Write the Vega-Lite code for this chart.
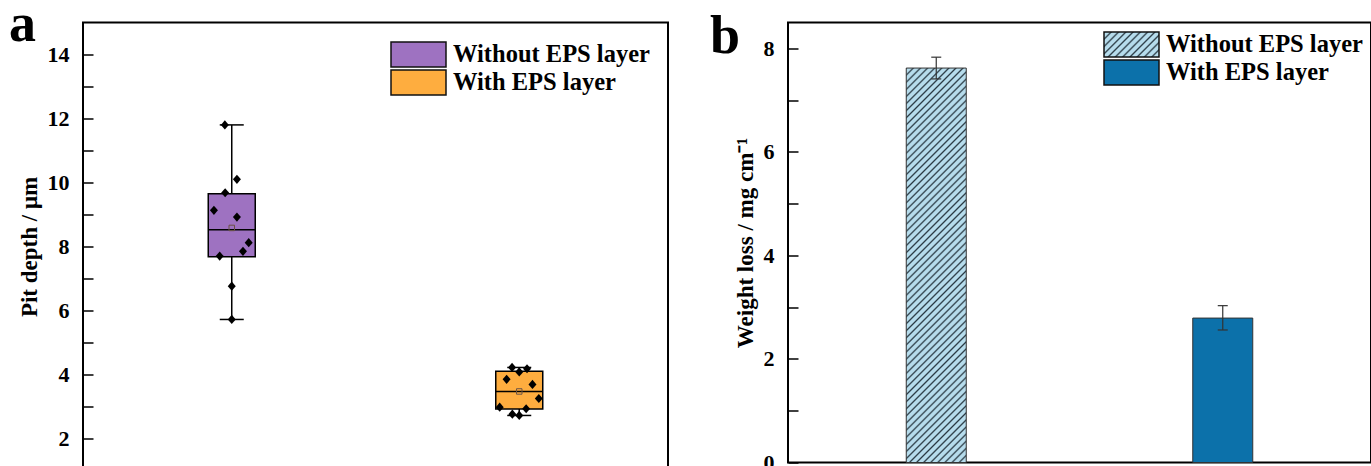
{
  "$schema": "https://vega.github.io/schema/vega-lite/v6.json",
  "background": "white",
  "padding": {"left": 8, "top": -3.5, "right": 0, "bottom": 0},
  "spacing": 120,
  "bounds": "flush",
  "resolve": {"scale": {"fill": "independent"}, "legend": {"fill": "independent"}},
  "datasets": {
    "pits": [
      {"group": "Without EPS layer", "x": 0.976, "depth": 11.8},
      {"group": "Without EPS layer", "x": 1.018, "depth": 10.1},
      {"group": "Without EPS layer", "x": 0.977, "depth": 9.68},
      {"group": "Without EPS layer", "x": 0.938, "depth": 9.13},
      {"group": "Without EPS layer", "x": 1.018, "depth": 8.92},
      {"group": "Without EPS layer", "x": 1.059, "depth": 8.12},
      {"group": "Without EPS layer", "x": 1.039, "depth": 7.85},
      {"group": "Without EPS layer", "x": 0.958, "depth": 7.70},
      {"group": "Without EPS layer", "x": 1.0, "depth": 6.76},
      {"group": "Without EPS layer", "x": 1.0, "depth": 5.72},
      {"group": "With EPS layer", "x": 1.975, "depth": 4.22},
      {"group": "With EPS layer", "x": 2.0, "depth": 4.08},
      {"group": "With EPS layer", "x": 2.027, "depth": 4.18},
      {"group": "With EPS layer", "x": 1.956, "depth": 3.85},
      {"group": "With EPS layer", "x": 2.046, "depth": 3.69},
      {"group": "With EPS layer", "x": 2.068, "depth": 3.25},
      {"group": "With EPS layer", "x": 1.932, "depth": 2.98},
      {"group": "With EPS layer", "x": 2.024, "depth": 2.93},
      {"group": "With EPS layer", "x": 1.976, "depth": 2.76},
      {"group": "With EPS layer", "x": 2.0, "depth": 2.72}
    ],
    "box": [
      {"group": "Without EPS layer", "x": 1, "lo": 5.72, "q1": 7.68, "med": 8.52, "q3": 9.65, "hi": 11.8, "mean": 8.58},
      {"group": "With EPS layer", "x": 2, "lo": 2.72, "q1": 2.92, "med": 3.47, "q3": 4.10, "hi": 4.22, "mean": 3.47}
    ],
    "wl": [
      {"group": "Without EPS layer", "x": 1, "loss": 7.62, "lo": 7.41, "hi": 7.83},
      {"group": "With EPS layer", "x": 2, "loss": 2.79, "lo": 2.56, "hi": 3.03}
    ]
  },
  "hconcat": [
    {
      "width": 585,
      "height": 448,
      "title": {"text": "a", "dx": -74, "dy": 33.1},
      "layer": [
        {
          "data": {"name": "box"},
          "mark": {"type": "rule", "stroke": "black", "strokeWidth": 1.5},
          "encoding": {
            "x": {"field": "x", "type": "quantitative", "scale": {"domain": [0.5, 2.5], "nice": false, "zero": false}, "axis": null},
            "y": {"field": "lo", "type": "quantitative", "scale": {"domain": [1, 15], "nice": false, "zero": false},
                  "axis": {"title": "Pit depth / μm", "values": [1,2,3,4,5,6,7,8,9,10,11,12,13,14], "labelExpr": "datum.value % 2 === 0 ? datum.label : ''", "labelOverlap": false, "labelBound": false, "labelFlush": false}},
            "y2": {"field": "hi"}
          }
        },
        {
          "data": {"name": "box"},
          "mark": {"type": "bar", "size": 47, "stroke": "black", "strokeWidth": 1.5},
          "encoding": {
            "x": {"field": "x", "type": "quantitative", "axis": null},
            "y": {"field": "q1", "type": "quantitative",
                  "axis": {"title": "Pit depth / μm", "values": [1,2,3,4,5,6,7,8,9,10,11,12,13,14], "labelExpr": "datum.value % 2 === 0 ? datum.label : ''", "labelOverlap": false, "labelBound": false, "labelFlush": false}},
            "y2": {"field": "q3"},
            "fill": {"field": "group", "type": "nominal",
                     "scale": {"domain": ["Without EPS layer", "With EPS layer"], "range": ["#9e72c1", "#fead3f"]},
                     "legend": {"orient": "top-right", "offset": 18}}
          }
        },
        {
          "data": {"name": "box"},
          "mark": {"type": "tick", "orient": "horizontal", "size": 47, "thickness": 1.5, "color": "black", "opacity": 1},
          "encoding": {"x": {"field": "x", "type": "quantitative", "axis": null}, "y": {"field": "med", "type": "quantitative",
                  "axis": {"title": "Pit depth / μm", "values": [1,2,3,4,5,6,7,8,9,10,11,12,13,14], "labelExpr": "datum.value % 2 === 0 ? datum.label : ''", "labelOverlap": false, "labelBound": false, "labelFlush": false}}}
        },
        {
          "data": {"name": "box"},
          "mark": {"type": "tick", "orient": "horizontal", "size": 24, "thickness": 1.5, "color": "black", "opacity": 1},
          "encoding": {"x": {"field": "x", "type": "quantitative", "axis": null}, "y": {"field": "lo", "type": "quantitative",
                  "axis": {"title": "Pit depth / μm", "values": [1,2,3,4,5,6,7,8,9,10,11,12,13,14], "labelExpr": "datum.value % 2 === 0 ? datum.label : ''", "labelOverlap": false, "labelBound": false, "labelFlush": false}}}
        },
        {
          "data": {"name": "box"},
          "mark": {"type": "tick", "orient": "horizontal", "size": 24, "thickness": 1.5, "color": "black", "opacity": 1},
          "encoding": {"x": {"field": "x", "type": "quantitative", "axis": null}, "y": {"field": "hi", "type": "quantitative",
                  "axis": {"title": "Pit depth / μm", "values": [1,2,3,4,5,6,7,8,9,10,11,12,13,14], "labelExpr": "datum.value % 2 === 0 ? datum.label : ''", "labelOverlap": false, "labelBound": false, "labelFlush": false}}}
        },
        {
          "data": {"name": "box"},
          "mark": {"type": "point", "shape": "square", "filled": false, "size": 30, "stroke": "#6b5344", "strokeWidth": 1, "opacity": 1},
          "encoding": {"x": {"field": "x", "type": "quantitative", "axis": null}, "y": {"field": "mean", "type": "quantitative",
                  "axis": {"title": "Pit depth / μm", "values": [1,2,3,4,5,6,7,8,9,10,11,12,13,14], "labelExpr": "datum.value % 2 === 0 ? datum.label : ''", "labelOverlap": false, "labelBound": false, "labelFlush": false}}}
        },
        {
          "data": {"name": "pits"},
          "mark": {"type": "point", "shape": "M-1,0L0,-1.15L1,0L0,1.15Z", "filled": true, "size": 64, "color": "black", "opacity": 1},
          "encoding": {"x": {"field": "x", "type": "quantitative", "axis": null}, "y": {"field": "depth", "type": "quantitative",
                  "axis": {"title": "Pit depth / μm", "values": [1,2,3,4,5,6,7,8,9,10,11,12,13,14], "labelExpr": "datum.value % 2 === 0 ? datum.label : ''", "labelOverlap": false, "labelBound": false, "labelFlush": false}}}
        }
      ]
    },
    {
      "width": 583,
      "height": 440,
      "title": {"text": "b", "dx": -78, "dy": 45.4},
      "layer": [
        {
          "data": {"name": "wl"},
          "mark": {"type": "bar", "size": 60, "stroke": "#333333", "strokeWidth": 1},
          "encoding": {
            "x": {"field": "x", "type": "quantitative", "scale": {"domain": [0.5, 2.5], "nice": false, "zero": false}, "axis": null},
            "y": {"field": "loss", "type": "quantitative", "scale": {"domain": [0, 8.5], "nice": false},
                  "axis": {"title": "Weight loss / mg cm⁻¹", "values": [0,1,2,3,4,5,6,7,8], "labelExpr": "datum.value % 2 === 0 ? datum.label : ''", "labelOverlap": false}},
            "fill": {
              "field": "group", "type": "nominal",
              "scale": {"domain": ["Without EPS layer", "With EPS layer"], "range": [
                {"expr": "{gradient: 'linear', x1: 0, y1: 0, x2: 1.2055, y2: 0.548, stops: [{offset: 0, color: '#2a3a44'}, {offset: 0.0227, color: '#b6dcec'}, {offset: 0.0682, color: '#b6dcec'}, {offset: 0.0909, color: '#2a3a44'}, {offset: 0.1136, color: '#b6dcec'}, {offset: 0.1591, color: '#b6dcec'}, {offset: 0.1818, color: '#2a3a44'}, {offset: 0.2045, color: '#b6dcec'}, {offset: 0.25, color: '#b6dcec'}, {offset: 0.2727, color: '#2a3a44'}, {offset: 0.2955, color: '#b6dcec'}, {offset: 0.3409, color: '#b6dcec'}, {offset: 0.3636, color: '#2a3a44'}, {offset: 0.3864, color: '#b6dcec'}, {offset: 0.4318, color: '#b6dcec'}, {offset: 0.4545, color: '#2a3a44'}, {offset: 0.4773, color: '#b6dcec'}, {offset: 0.5227, color: '#b6dcec'}, {offset: 0.5455, color: '#2a3a44'}, {offset: 0.5682, color: '#b6dcec'}, {offset: 0.6136, color: '#b6dcec'}, {offset: 0.6364, color: '#2a3a44'}, {offset: 0.6591, color: '#b6dcec'}, {offset: 0.7045, color: '#b6dcec'}, {offset: 0.7273, color: '#2a3a44'}, {offset: 0.75, color: '#b6dcec'}, {offset: 0.7955, color: '#b6dcec'}, {offset: 0.8182, color: '#2a3a44'}, {offset: 0.8409, color: '#b6dcec'}, {offset: 0.8864, color: '#b6dcec'}, {offset: 0.9091, color: '#2a3a44'}, {offset: 0.9318, color: '#b6dcec'}, {offset: 0.9773, color: '#b6dcec'}, {offset: 1, color: '#2a3a44'}]}"},
                "#0c71aa"
              ]},
              "condition": {"test": "datum.group === 'Without EPS layer'", "value": {"gradient": "linear", "x1": 0, "y1": 0, "x2": 0.1714, "y2": 1.126, "stops": [
                {"offset": 0, "color": "#2a3a44"}, {"offset": 0.0039, "color": "#b6dcec"}, {"offset": 0.0117, "color": "#b6dcec"},
                {"offset": 0.0156, "color": "#2a3a44"}, {"offset": 0.0195, "color": "#b6dcec"}, {"offset": 0.0273, "color": "#b6dcec"},
                {"offset": 0.0313, "color": "#2a3a44"}, {"offset": 0.0352, "color": "#b6dcec"}, {"offset": 0.043, "color": "#b6dcec"},
                {"offset": 0.0469, "color": "#2a3a44"}, {"offset": 0.0508, "color": "#b6dcec"}, {"offset": 0.0586, "color": "#b6dcec"},
                {"offset": 0.0625, "color": "#2a3a44"}, {"offset": 0.0664, "color": "#b6dcec"}, {"offset": 0.0742, "color": "#b6dcec"},
                {"offset": 0.0781, "color": "#2a3a44"}, {"offset": 0.082, "color": "#b6dcec"}, {"offset": 0.0898, "color": "#b6dcec"},
                {"offset": 0.0938, "color": "#2a3a44"}, {"offset": 0.0977, "color": "#b6dcec"}, {"offset": 0.1055, "color": "#b6dcec"},
                {"offset": 0.1094, "color": "#2a3a44"}, {"offset": 0.1133, "color": "#b6dcec"}, {"offset": 0.1211, "color": "#b6dcec"},
                {"offset": 0.125, "color": "#2a3a44"}, {"offset": 0.1289, "color": "#b6dcec"}, {"offset": 0.1367, "color": "#b6dcec"},
                {"offset": 0.1406, "color": "#2a3a44"}, {"offset": 0.1445, "color": "#b6dcec"}, {"offset": 0.1523, "color": "#b6dcec"},
                {"offset": 0.1563, "color": "#2a3a44"}, {"offset": 0.1602, "color": "#b6dcec"}, {"offset": 0.168, "color": "#b6dcec"},
                {"offset": 0.1719, "color": "#2a3a44"}, {"offset": 0.1758, "color": "#b6dcec"}, {"offset": 0.1836, "color": "#b6dcec"},
                {"offset": 0.1875, "color": "#2a3a44"}, {"offset": 0.1914, "color": "#b6dcec"}, {"offset": 0.1992, "color": "#b6dcec"},
                {"offset": 0.2031, "color": "#2a3a44"}, {"offset": 0.207, "color": "#b6dcec"}, {"offset": 0.2148, "color": "#b6dcec"},
                {"offset": 0.2188, "color": "#2a3a44"}, {"offset": 0.2227, "color": "#b6dcec"}, {"offset": 0.2305, "color": "#b6dcec"},
                {"offset": 0.2344, "color": "#2a3a44"}, {"offset": 0.2383, "color": "#b6dcec"}, {"offset": 0.2461, "color": "#b6dcec"},
                {"offset": 0.25, "color": "#2a3a44"}, {"offset": 0.2539, "color": "#b6dcec"}, {"offset": 0.2617, "color": "#b6dcec"},
                {"offset": 0.2656, "color": "#2a3a44"}, {"offset": 0.2695, "color": "#b6dcec"}, {"offset": 0.2773, "color": "#b6dcec"},
                {"offset": 0.2813, "color": "#2a3a44"}, {"offset": 0.2852, "color": "#b6dcec"}, {"offset": 0.293, "color": "#b6dcec"},
                {"offset": 0.2969, "color": "#2a3a44"}, {"offset": 0.3008, "color": "#b6dcec"}, {"offset": 0.3086, "color": "#b6dcec"},
                {"offset": 0.3125, "color": "#2a3a44"}, {"offset": 0.3164, "color": "#b6dcec"}, {"offset": 0.3242, "color": "#b6dcec"},
                {"offset": 0.3281, "color": "#2a3a44"}, {"offset": 0.332, "color": "#b6dcec"}, {"offset": 0.3398, "color": "#b6dcec"},
                {"offset": 0.3438, "color": "#2a3a44"}, {"offset": 0.3477, "color": "#b6dcec"}, {"offset": 0.3555, "color": "#b6dcec"},
                {"offset": 0.3594, "color": "#2a3a44"}, {"offset": 0.3633, "color": "#b6dcec"}, {"offset": 0.3711, "color": "#b6dcec"},
                {"offset": 0.375, "color": "#2a3a44"}, {"offset": 0.3789, "color": "#b6dcec"}, {"offset": 0.3867, "color": "#b6dcec"},
                {"offset": 0.3906, "color": "#2a3a44"}, {"offset": 0.3945, "color": "#b6dcec"}, {"offset": 0.4023, "color": "#b6dcec"},
                {"offset": 0.4063, "color": "#2a3a44"}, {"offset": 0.4102, "color": "#b6dcec"}, {"offset": 0.418, "color": "#b6dcec"},
                {"offset": 0.4219, "color": "#2a3a44"}, {"offset": 0.4258, "color": "#b6dcec"}, {"offset": 0.4336, "color": "#b6dcec"},
                {"offset": 0.4375, "color": "#2a3a44"}, {"offset": 0.4414, "color": "#b6dcec"}, {"offset": 0.4492, "color": "#b6dcec"},
                {"offset": 0.4531, "color": "#2a3a44"}, {"offset": 0.457, "color": "#b6dcec"}, {"offset": 0.4648, "color": "#b6dcec"},
                {"offset": 0.4688, "color": "#2a3a44"}, {"offset": 0.4727, "color": "#b6dcec"}, {"offset": 0.4805, "color": "#b6dcec"},
                {"offset": 0.4844, "color": "#2a3a44"}, {"offset": 0.4883, "color": "#b6dcec"}, {"offset": 0.4961, "color": "#b6dcec"},
                {"offset": 0.5, "color": "#2a3a44"}, {"offset": 0.5039, "color": "#b6dcec"}, {"offset": 0.5117, "color": "#b6dcec"},
                {"offset": 0.5156, "color": "#2a3a44"}, {"offset": 0.5195, "color": "#b6dcec"}, {"offset": 0.5273, "color": "#b6dcec"},
                {"offset": 0.5313, "color": "#2a3a44"}, {"offset": 0.5352, "color": "#b6dcec"}, {"offset": 0.543, "color": "#b6dcec"},
                {"offset": 0.5469, "color": "#2a3a44"}, {"offset": 0.5508, "color": "#b6dcec"}, {"offset": 0.5586, "color": "#b6dcec"},
                {"offset": 0.5625, "color": "#2a3a44"}, {"offset": 0.5664, "color": "#b6dcec"}, {"offset": 0.5742, "color": "#b6dcec"},
                {"offset": 0.5781, "color": "#2a3a44"}, {"offset": 0.582, "color": "#b6dcec"}, {"offset": 0.5898, "color": "#b6dcec"},
                {"offset": 0.5938, "color": "#2a3a44"}, {"offset": 0.5977, "color": "#b6dcec"}, {"offset": 0.6055, "color": "#b6dcec"},
                {"offset": 0.6094, "color": "#2a3a44"}, {"offset": 0.6133, "color": "#b6dcec"}, {"offset": 0.6211, "color": "#b6dcec"},
                {"offset": 0.625, "color": "#2a3a44"}, {"offset": 0.6289, "color": "#b6dcec"}, {"offset": 0.6367, "color": "#b6dcec"},
                {"offset": 0.6406, "color": "#2a3a44"}, {"offset": 0.6445, "color": "#b6dcec"}, {"offset": 0.6523, "color": "#b6dcec"},
                {"offset": 0.6563, "color": "#2a3a44"}, {"offset": 0.6602, "color": "#b6dcec"}, {"offset": 0.668, "color": "#b6dcec"},
                {"offset": 0.6719, "color": "#2a3a44"}, {"offset": 0.6758, "color": "#b6dcec"}, {"offset": 0.6836, "color": "#b6dcec"},
                {"offset": 0.6875, "color": "#2a3a44"}, {"offset": 0.6914, "color": "#b6dcec"}, {"offset": 0.6992, "color": "#b6dcec"},
                {"offset": 0.7031, "color": "#2a3a44"}, {"offset": 0.707, "color": "#b6dcec"}, {"offset": 0.7148, "color": "#b6dcec"},
                {"offset": 0.7188, "color": "#2a3a44"}, {"offset": 0.7227, "color": "#b6dcec"}, {"offset": 0.7305, "color": "#b6dcec"},
                {"offset": 0.7344, "color": "#2a3a44"}, {"offset": 0.7383, "color": "#b6dcec"}, {"offset": 0.7461, "color": "#b6dcec"},
                {"offset": 0.75, "color": "#2a3a44"}, {"offset": 0.7539, "color": "#b6dcec"}, {"offset": 0.7617, "color": "#b6dcec"},
                {"offset": 0.7656, "color": "#2a3a44"}, {"offset": 0.7695, "color": "#b6dcec"}, {"offset": 0.7773, "color": "#b6dcec"},
                {"offset": 0.7813, "color": "#2a3a44"}, {"offset": 0.7852, "color": "#b6dcec"}, {"offset": 0.793, "color": "#b6dcec"},
                {"offset": 0.7969, "color": "#2a3a44"}, {"offset": 0.8008, "color": "#b6dcec"}, {"offset": 0.8086, "color": "#b6dcec"},
                {"offset": 0.8125, "color": "#2a3a44"}, {"offset": 0.8164, "color": "#b6dcec"}, {"offset": 0.8242, "color": "#b6dcec"},
                {"offset": 0.8281, "color": "#2a3a44"}, {"offset": 0.832, "color": "#b6dcec"}, {"offset": 0.8398, "color": "#b6dcec"},
                {"offset": 0.8438, "color": "#2a3a44"}, {"offset": 0.8477, "color": "#b6dcec"}, {"offset": 0.8555, "color": "#b6dcec"},
                {"offset": 0.8594, "color": "#2a3a44"}, {"offset": 0.8633, "color": "#b6dcec"}, {"offset": 0.8711, "color": "#b6dcec"},
                {"offset": 0.875, "color": "#2a3a44"}, {"offset": 0.8789, "color": "#b6dcec"}, {"offset": 0.8867, "color": "#b6dcec"},
                {"offset": 0.8906, "color": "#2a3a44"}, {"offset": 0.8945, "color": "#b6dcec"}, {"offset": 0.9023, "color": "#b6dcec"},
                {"offset": 0.9063, "color": "#2a3a44"}, {"offset": 0.9102, "color": "#b6dcec"}, {"offset": 0.918, "color": "#b6dcec"},
                {"offset": 0.9219, "color": "#2a3a44"}, {"offset": 0.9258, "color": "#b6dcec"}, {"offset": 0.9336, "color": "#b6dcec"},
                {"offset": 0.9375, "color": "#2a3a44"}, {"offset": 0.9414, "color": "#b6dcec"}, {"offset": 0.9492, "color": "#b6dcec"},
                {"offset": 0.9531, "color": "#2a3a44"}, {"offset": 0.957, "color": "#b6dcec"}, {"offset": 0.9648, "color": "#b6dcec"},
                {"offset": 0.9688, "color": "#2a3a44"}, {"offset": 0.9727, "color": "#b6dcec"}, {"offset": 0.9805, "color": "#b6dcec"},
                {"offset": 0.9844, "color": "#2a3a44"}, {"offset": 0.9883, "color": "#b6dcec"}, {"offset": 0.9961, "color": "#b6dcec"},
                {"offset": 1, "color": "#2a3a44"}
              ]}},
              "legend": {
                "orient": "top-right", "offset": 8,
                "encode": {"symbols": {"update": {"stroke": {"value": "#111111"}}}}
              }
            }
          }
        },
        {
          "data": {"name": "wl"},
          "mark": {"type": "rule", "stroke": "#333333", "strokeWidth": 1.2},
          "encoding": {"x": {"field": "x", "type": "quantitative"}, "y": {"field": "lo", "type": "quantitative"}, "y2": {"field": "hi"}}
        },
        {
          "data": {"name": "wl"},
          "mark": {"type": "tick", "orient": "horizontal", "size": 10, "thickness": 1.2, "color": "#333333", "opacity": 1},
          "encoding": {"x": {"field": "x", "type": "quantitative"}, "y": {"field": "lo", "type": "quantitative"}}
        },
        {
          "data": {"name": "wl"},
          "mark": {"type": "tick", "orient": "horizontal", "size": 10, "thickness": 1.2, "color": "#333333", "opacity": 1},
          "encoding": {"x": {"field": "x", "type": "quantitative"}, "y": {"field": "hi", "type": "quantitative"}}
        }
      ]
    }
  ],
  "config": {
    "view": {"stroke": "black", "strokeWidth": 2},
    "axis": {
      "domain": false, "grid": false, "ticks": true, "tickColor": "black", "tickWidth": 1.5, "tickSize": -10,
      "labelPadding": 24, "labelOverlap": false, "labelFont": "Liberation Serif", "labelFontWeight": "bold", "labelFontSize": 22, "labelColor": "black",
      "titleFont": "Liberation Serif", "titleFontWeight": "bold", "titleFontSize": 23, "titleColor": "black", "titlePadding": 6
    },
    "title": {"font": "Liberation Serif", "fontWeight": "bold", "fontSize": 54, "color": "black", "anchor": "start", "frame": "group", "offset": 0, "baseline": "alphabetic"},
    "legend": {
      "title": null, "padding": 0, "symbolType": "M-1,-0.4545H1V0.4545H-1Z", "symbolSize": 3025,
      "symbolStrokeColor": "#111111", "symbolStrokeWidth": 1.5, "symbolOpacity": 1, "clipHeight": 28, "rowPadding": 0,
      "labelOffset": 6, "labelFont": "Liberation Serif", "labelFontWeight": "bold", "labelFontSize": 24.5, "labelColor": "black", "labelLimit": 400
    }
  }
}
